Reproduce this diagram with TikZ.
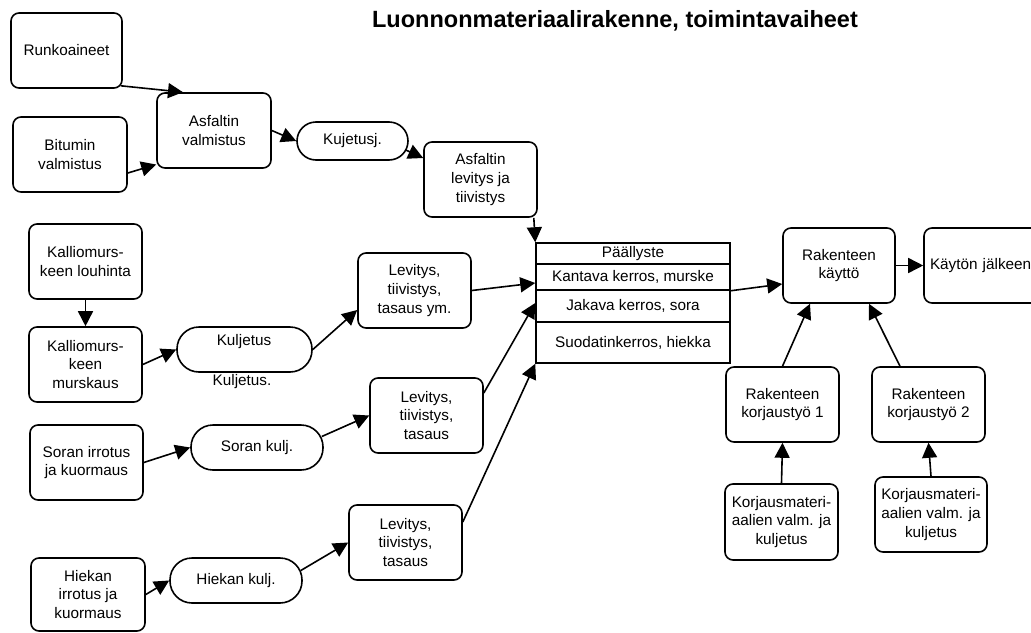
\documentclass[tikz,border=0pt]{standalone}
\usepackage{fontspec}
\setmainfont{Liberation Sans}
\usetikzlibrary{arrows.meta}
\begin{document}
\begin{tikzpicture}[x=1pt,y=-1pt,
  every node/.style={font=\fontsize{15.3}{18.6}\selectfont},
  box/.style={draw, line width=1.6pt, rounded corners=8pt, align=center, inner sep=0pt,
    minimum width=113pt, minimum height=75pt},
  stad/.style={draw, line width=1.6pt, rounded corners=19pt, align=center, inner sep=0pt,
    minimum width=132pt, minimum height=45pt},
  row/.style={draw, line width=1.5pt, inner sep=0pt, minimum width=194pt, align=center},
  txt/.style={inner sep=0pt, align=center},
  arr/.style={line width=1.6pt, -{Triangle[length=15pt,width=15pt]}}
]
\useasboundingbox (0,0) rectangle (1031,632);

\node[txt, anchor=base, font=\fontsize{23.5}{26}\selectfont\bfseries] (title) at (615,27)
  {Luonnonmateriaalirakenne, toimintavaiheet};

% asphalt chain
\node[box, minimum width=111pt] (ru) at (66.5,50.5) {Runkoaineet};
\node[box, minimum width=114pt] (bi) at (70,154.5) {Bitumin\\valmistus};
\node[box, minimum width=114pt] (av) at (214,130.5) {Asfaltin\\valmistus};
\node[stad, minimum width=111pt, minimum height=38pt] (kj) at (352.5,141) {Kujetusj.};
\node[box] (al) at (480.5,179.5) {Asfaltin\\levitys ja\\tiivistys};

% crushed rock chain
\node[box] (kl) at (85.5,261.5) {Kalliomurs-\\keen louhinta};
\node[box] (km) at (85.5,364.5) {Kalliomurs-\\keen\\murskaus};
\node[stad, minimum width=135pt, rounded corners=22pt] (ku) at (244.5,349.5) {};
\node[txt] (kut) at (244,342) {Kuljetus};
\node[txt] (kul) at (242,382) {Kuljetus.};
\node[box] (l1) at (414.5,290.5) {Levitys,\\tiivistys,\\tasaus ym.};

% gravel chain
\node[box] (sr) at (86.5,462.5) {Soran irrotus\\ja kuormaus};
\node[stad, rounded corners=22pt] (sk) at (257,447.5) {Soran kulj.};
\node[box] (l2) at (426.5,415.5) {Levitys,\\tiivistys,\\tasaus};

% sand chain
\node[box, minimum width=114pt, minimum height=73pt] (hi) at (88,594.5) {Hiekan\\irrotus ja\\kuormaus};
\node[stad, rounded corners=22pt] (hk) at (236,580.5) {Hiekan kulj.};
\node[box] (l3) at (405.5,542.5) {Levitys,\\tiivistys,\\tasaus};

% layered structure
\node[row, minimum height=21pt] (r1) at (633,253.5) {Päällyste};
\node[row, minimum height=26pt] (r2) at (633,277) {Kantava kerros, murske};
\node[row, minimum height=32pt] (r3) at (633,306) {Jakava kerros, sora};
\node[row, minimum height=41pt] (r4) at (633,342.5) {Suodatinkerros, hiekka};

% use phase
\node[box, minimum width=112pt] (rk) at (839,265.5) {Rakenteen\\käyttö};
\node[box, minimum width=116pt, text width=104pt, align=left, inner xsep=6pt] (kjl) at (982,265.5) {Käytön jälkeen};
\node[box] (k1) at (782.5,404.5) {Rakenteen\\korjaustyö 1};
\node[box] (k2) at (928.5,404.5) {Rakenteen\\korjaustyö 2};
\node[box, minimum height=76pt] (m1) at (781.5,522) {Korjausmateri-\\aalien valm. ja\\kuljetus};
\node[box, minimum width=112pt] (m2) at (931,514.5) {Korjausmateri-\\aalien valm. ja\\kuljetus};

% connectors
\draw[arr] ([shift={(-2pt,3pt)}]ru.south east) -- ([xshift=-31pt]av.north);
\draw[arr] ([yshift=-18.5pt]bi.east) -- ([yshift=-34pt]av.west);
\draw[arr] (av.east) -- (kj.west);
\draw[arr] ([shift={(-3pt,-9pt)}]kj.east) -- ([yshift=21.5pt]al.west);
\draw[arr] ([xshift=-4pt]al.south east) -- (r1.north west);

\draw[arr] (kl.south) -- (km.north);
\draw[arr] (km.east) -- (ku.west);
\draw[arr] (ku.east) -- ([yshift=-19.5pt]l1.west);
\draw[arr] (l1.east) -- ([yshift=-6pt]r2.west);

\draw[arr] (sr.east) -- (sk.west);
\draw[arr] ([shift={(-2pt,11pt)}]sk.east) -- (l2.west);
\draw[arr] ([yshift=22.5pt]l2.east) -- ([yshift=3pt]r3.west);

\draw[arr] (hi.east) -- (hk.west);
\draw[arr] ([shift={(-2pt,10pt)}]hk.east) -- (l3.west);
\draw[arr] ([yshift=20.5pt]l3.east) -- (r4.south west);

\draw[arr] (r2.south east) -- ([yshift=-18.5pt]rk.west);
\draw[arr] (rk.east) -- (kjl.west);
\draw[arr] (k1.north) -- ([xshift=-29pt]rk.south);
\draw[arr] ([xshift=-28.5pt]k2.north) -- ([xshift=30pt]rk.south);
\draw[arr] (m1.north) -- (k1.south);
\draw[arr] (m2.north) -- (k2.south);
\end{tikzpicture}
\end{document}
